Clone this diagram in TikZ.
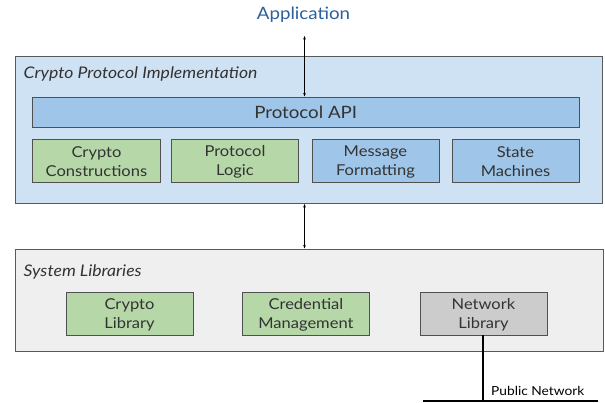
\documentclass[tikz,border=0pt]{standalone}
\usepackage{fontspec}
\setmainfont[FakeStretch=1.1]{Lato}
\usetikzlibrary{arrows.meta}
\definecolor{appblue}{RGB}{44,96,156}
\definecolor{panelblue}{HTML}{CFE2F3}
\definecolor{boxblue}{HTML}{9FC5E8}
\definecolor{boxgreen}{HTML}{B6D7A8}
\definecolor{boxgray}{HTML}{CCCCCC}
\definecolor{panelgray}{HTML}{EFEFEF}
\definecolor{edge}{HTML}{595959}
\definecolor{ink}{HTML}{333333}
% one text line with a fixed height and depth, so every box sets its lines alike
\newcommand\boxline[1]{\rule[-1.5bp]{0pt}{15bp}#1}
\tikzset{
  panel/.style={draw=edge, line width=0.9bp, anchor=north west, inner sep=0pt},
  comp/.style={draw=edge!90!black, line width=0.9bp, anchor=north west, inner sep=0pt,
    minimum width=127bp, minimum height=42.5bp, text=ink, align=center,
    font=\fontsize{15bp}{19bp}\selectfont},
  paneltitle/.style={anchor=base west, text=ink, font=\fontsize{16bp}{18bp}\selectfont\itshape, inner sep=0pt},
  link/.style={line width=0.7bp, {Stealth[length=3.5bp,width=2.6bp]}-{Stealth[length=3.5bp,width=2.6bp]}}
}
\begin{document}
\begin{tikzpicture}[x=1bp,y=-1bp]
\useasboundingbox[fill=white] (0,0) rectangle (605,402);
% application layer
\node[anchor=base, text=appblue, font=\fontsize{17bp}{20bp}\selectfont, inner sep=0pt] (app) at (303.5,19.5) {Application};
% protocol implementation panel
\node[panel, fill=panelblue, minimum width=587bp, minimum height=147bp] (impl) at (15,56) {};
\node[paneltitle] (impltitle) at (23.5,78.3) {Crypto Protocol Implementation};
\node[comp, fill=boxblue, minimum width=546.5bp, minimum height=30bp,
  font=\fontsize{17bp}{20bp}\selectfont] (api) at (32,97) {\boxline{Protocol API}};
\node[comp, fill=boxgreen, minimum width=128bp] (cc) at (32,139) {\boxline{Crypto}\\\boxline{Constructions}};
\node[comp, fill=boxgreen] (pl) at (171,139) {\boxline{Protocol}\\\boxline{Logic}};
\node[comp, fill=boxblue] (mf) at (311.5,139) {\boxline{Message}\\\boxline{Formatting}};
\node[comp, fill=boxblue] (sm) at (451.5,139) {\boxline{State}\\\boxline{Machines}};
% system libraries panel
\node[panel, fill=panelgray, minimum width=588bp, minimum height=102bp] (sys) at (15,249) {};
\node[paneltitle] (systitle) at (23.5,276) {System Libraries};
\node[comp, fill=boxgreen] (cl) at (65.5,292) {\boxline{Crypto}\\\boxline{Library}};
\node[comp, fill=boxgreen] (cm) at (242,292) {\boxline{Credential}\\\boxline{Management}};
\node[comp, fill=boxgray] (nl) at (419.5,292) {\boxline{Network}\\\boxline{Library}};
% public network
\coordinate (netL) at (423,400.5);
\coordinate (netR) at (598,400.5);
\coordinate (tap) at (483,400.5);
\node[anchor=base west, inner sep=0pt, text=black, font=\fontsize{12.5bp}{14bp}\selectfont] (pub) at (491,395) {Public Network};
% connectors
\draw[link] (304.5,36) -- (304.5,96.5);
\draw[link] (304.5,204) -- (304.5,248.5);
\draw[line width=2.6bp] (nl.south -| tap) -- (tap);
\draw[line width=2bp] (netL) -- (netR);
\end{tikzpicture}
\end{document}
